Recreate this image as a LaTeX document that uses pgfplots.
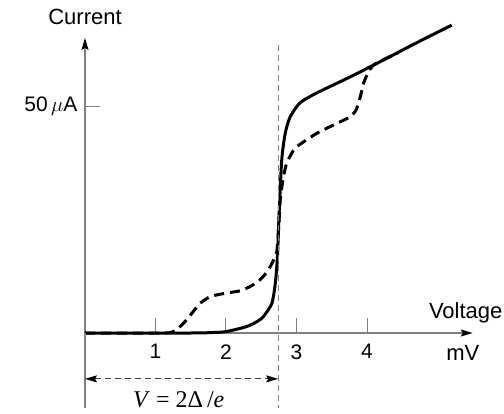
\documentclass[border=0pt]{standalone}
\usepackage{fontspec}
\setmainfont{Liberation Sans}
\newfontfamily\timesfont{Liberation Serif}
\usepackage{pgfplots}
\pgfplotsset{compat=1.18}
\usetikzlibrary{arrows.meta}

\begin{document}
\fontsize{22}{26}\selectfont
\begin{tikzpicture}
\useasboundingbox (-85pt,-80pt) rectangle (419pt,333pt);
\begin{axis}[
  at={(0pt,0pt)}, anchor=south west,
  x=70.5pt, y=4.54pt,
  xmin=0, xmax=5.5, ymin=0, ymax=65,
  enlargelimits=false,
  axis lines=left,
  axis line style={draw=gray, line width=1.2pt},
  x axis line style={-{Stealth[length=12pt,width=7pt,inset=2pt,black]}},
  y axis line style={-{Stealth[length=12pt,width=7pt,inset=2pt,black]}},
  xtick={1,2,3,4}, ytick={50}, yticklabels={50\,$\mu$A},
  tick align=inside, major tick length=15pt,
  tick style={gray, line width=1pt},
  /pgf/number format/assume math mode=true,
  ticklabel style={font=\fontsize{21}{24}\selectfont},
  xticklabel style={yshift=-4pt},
  clip=false,
]
% solid curve
\addplot[black, line width=3pt, smooth, tension=0.4] coordinates {
  (0,0) (1.5,0) (1.8,0.1) (2.0,0.3) (2.29,1.4) (2.45,2.6) (2.53,3.6)
  (2.65,6.5) (2.70,11) (2.73,16.8) (2.75,25) (2.79,38) (2.84,44)
  (2.91,47.6) (3.05,50.7) (3.29,52.9) (3.76,56.4) (4.23,60.1)
  (4.70,63.9) (5.20,67.8)
};
% dashed curve
\addplot[black, line width=3pt, smooth, tension=0.4, dash pattern=on 10pt off 6pt] coordinates {
  (0,0) (1.1,0) (1.25,0.3) (1.35,1.4) (1.44,2.9) (1.55,5) (1.63,6.5)
  (1.75,7.8) (1.87,8.4) (2.05,8.9) (2.20,9.3) (2.35,10.3) (2.48,11.7)
  (2.58,13.4) (2.65,15.3) (2.72,17.9) (2.75,24) (2.77,29.3) (2.81,34)
  (2.86,37.4) (2.93,39.5) (3.0,41) (3.29,44) (3.55,46) (3.76,47.6)
  (3.84,49) (3.88,50.6) (3.92,53) (3.95,55) (4.02,57.5) (4.09,59)
  (4.2,60) (4.33,60.9) (4.45,61.8)
};
% gap marker and annotations
\draw[gray, line width=1.2pt] (axis cs:0,0) -- (axis cs:0,-16.5);
\draw[gray, line width=0.9pt, dash pattern=on 6pt off 4pt] (axis cs:2.74,63.4) -- (axis cs:2.74,-16.5);
\draw[gray!50!black, line width=1pt, dash pattern=on 6pt off 4pt,
  {Stealth[length=12pt,width=7pt,inset=2pt,black]}-{Stealth[length=12pt,width=7pt,inset=2pt,black]}]
  (axis cs:0,-10.1) -- (axis cs:2.74,-10.1);
\node at (axis cs:1.33,-14.8) {\fontsize{24}{28}\selectfont\timesfont\textit{V} = 2Δ\,/\textit{e}};
\node at (axis cs:5.4,4.4) {Voltage};
\node at (axis cs:5.36,-4.4) {mV};
\node at (axis cs:0,69.6) {Current};
\end{axis}
\end{tikzpicture}
\end{document}
